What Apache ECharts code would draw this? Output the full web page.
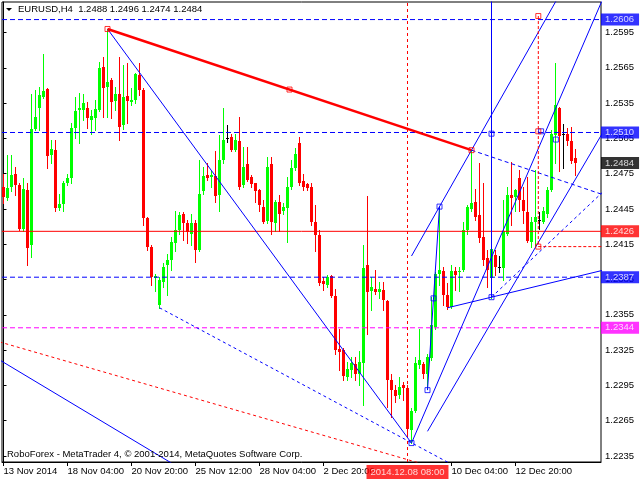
<!DOCTYPE html>
<html><head><meta charset="utf-8">
<script src="https://cdn.jsdelivr.net/npm/echarts@6/dist/echarts.min.js"></script>
<style>html,body{margin:0;padding:0;background:#fff}#c{width:640px;height:480px}</style>
</head><body><div id="c"></div>
<script>
// ---- H4 candles (bar index 0..143) ----
const opens = [1.2464,1.2454,1.2464,1.2475,1.2465,1.2428,1.2461,1.2414,1.2513,1.2531,
1.2540,1.2547,1.2491,1.2495,1.2446,1.2449,1.2467,1.2471,1.2514,1.2529,
1.2529,1.2531,1.2521,1.2522,1.2529,1.2566,1.2549,1.2555,1.2537,1.2543,
1.2516,1.2541,1.2536,1.2538,1.2559,1.2546,1.2437,1.2413,1.2386,1.2363,
1.2383,1.2397,1.2402,1.2416,1.2427,1.2441,1.2433,1.2424,1.2433,1.2410,
1.2460,1.2474,1.2472,1.2473,1.2457,1.2487,1.2505,1.2506,1.2495,1.2503,
1.2465,1.2483,1.2472,1.2467,1.2461,1.2447,1.2435,1.2483,1.2433,1.2451,
1.2443,1.2446,1.2464,1.2480,1.2501,1.2469,1.2466,1.2464,1.2434,1.2423,
1.2384,1.2380,1.2388,1.2371,1.2326,1.2325,1.2302,1.2308,1.2313,1.2305,
1.2314,1.2397,1.2375,1.2377,1.2374,1.2376,1.2367,1.2300,1.2291,1.2287,
1.2295,1.2293,1.2257,1.2273,1.2312,1.2313,1.2305,1.2318,1.2345,1.2390,
1.2392,1.2372,1.2362,1.2392,1.2391,1.2393,1.2427,1.2445,1.2451,1.2440,
1.2421,1.2403,1.2386,1.2406,1.2396,1.2395,1.2424,1.2457,1.2455,1.2471,
1.2453,1.2442,1.2417,1.2434,1.2436,1.2434,1.2441,1.2461,1.2508,1.2531,
1.2509,1.2509,1.2503,1.2488];
const highs = [1.2475,1.2491,1.2491,1.2481,1.2467,1.2471,1.2467,1.2543,1.2546,1.2549,
1.2577,1.2548,1.2504,1.2504,1.2458,1.2469,1.2475,1.2518,1.2540,1.2544,
1.2543,1.2536,1.2529,1.2538,1.2570,1.2574,1.2598,1.2556,1.2549,1.2574,
1.2567,1.2569,1.2548,1.2561,1.2569,1.2548,1.2438,1.2414,1.2390,1.2387,
1.2399,1.2407,1.2421,1.2443,1.2442,1.2442,1.2436,1.2441,1.2436,1.2487,
1.2481,1.2484,1.2477,1.2494,1.2508,1.2531,1.2516,1.2509,1.2509,1.2523,
1.2498,1.2498,1.2474,1.2467,1.2462,1.2453,1.2489,1.2489,1.2453,1.2457,
1.2450,1.2472,1.2487,1.2497,1.2506,1.2475,1.2467,1.2467,1.2448,1.2427,
1.2387,1.2389,1.2389,1.2377,1.2343,1.2327,1.2315,1.2319,1.2319,1.2324,
1.2414,1.2456,1.2387,1.2393,1.2383,1.2383,1.2368,1.2305,1.2295,1.2302,
1.2298,1.2295,1.2276,1.2319,1.2343,1.2315,1.2322,1.2370,1.2391,1.2447,
1.2396,1.2382,1.2397,1.2396,1.2396,1.2434,1.2448,1.2495,1.2462,1.2484,
1.2467,1.2410,1.2412,1.2410,1.2405,1.2453,1.2464,1.2485,1.2462,1.2478,
1.2464,1.2472,1.2438,1.2478,1.2442,1.2447,1.2464,1.2512,1.2569,1.2532,
1.2517,1.2514,1.2515,1.2496];
const lows = [1.2450,1.2453,1.2460,1.2457,1.2427,1.2426,1.2397,1.2404,1.2512,1.2512,
1.2539,1.2480,1.2484,1.2443,1.2444,1.2443,1.2465,1.2467,1.2505,1.2501,
1.2521,1.2514,1.2509,1.2512,1.2528,1.2523,1.2523,1.2522,1.2529,1.2504,
1.2513,1.2518,1.2533,1.2535,1.2542,1.2431,1.2410,1.2380,1.2375,1.2361,
1.2379,1.2372,1.2393,1.2409,1.2424,1.2419,1.2416,1.2414,1.2400,1.2409,
1.2458,1.2470,1.2464,1.2451,1.2443,1.2484,1.2502,1.2494,1.2494,1.2462,
1.2464,1.2469,1.2464,1.2451,1.2443,1.2433,1.2433,1.2424,1.2426,1.2426,
1.2441,1.2417,1.2462,1.2478,1.2465,1.2461,1.2461,1.2431,1.2409,1.2380,
1.2376,1.2379,1.2370,1.2322,1.2308,1.2300,1.2300,1.2302,1.2300,1.2295,
1.2278,1.2339,1.2359,1.2373,1.2369,1.2359,1.2277,1.2268,1.2281,1.2284,
1.2283,1.2253,1.2246,1.2272,1.2310,1.2301,1.2292,1.2317,1.2343,1.2380,
1.2363,1.2360,1.2361,1.2376,1.2375,1.2392,1.2424,1.2443,1.2436,1.2417,
1.2397,1.2379,1.2369,1.2389,1.2391,1.2385,1.2423,1.2431,1.2443,1.2443,
1.2433,1.2417,1.2413,1.2413,1.2428,1.2433,1.2438,1.2460,1.2484,1.2477,
1.2480,1.2499,1.2484,1.2474];
const closes = [1.2455,1.2463,1.2474,1.2465,1.2428,1.2462,1.2412,1.2513,1.2523,1.2542,
1.2545,1.2490,1.2496,1.2446,1.2449,1.2467,1.2471,1.2514,1.2528,1.2531,
1.2535,1.2522,1.2524,1.2530,1.2565,1.2548,1.2553,1.2536,1.2543,1.2515,
1.2540,1.2537,1.2538,1.2560,1.2546,1.2437,1.2413,1.2387,1.2388,1.2385,
1.2396,1.2402,1.2417,1.2427,1.2440,1.2433,1.2425,1.2433,1.2410,1.2458,
1.2473,1.2471,1.2474,1.2456,1.2487,1.2504,1.2505,1.2495,1.2504,1.2464,
1.2481,1.2470,1.2466,1.2460,1.2448,1.2434,1.2481,1.2434,1.2451,1.2441,
1.2447,1.2464,1.2480,1.2492,1.2467,1.2464,1.2463,1.2434,1.2423,1.2382,
1.2381,1.2387,1.2371,1.2325,1.2323,1.2303,1.2309,1.2314,1.2305,1.2315,
1.2395,1.2374,1.2379,1.2374,1.2377,1.2368,1.2300,1.2291,1.2286,1.2294,
1.2293,1.2258,1.2273,1.2314,1.2317,1.2305,1.2319,1.2346,1.2390,1.2393,
1.2372,1.2362,1.2392,1.2389,1.2392,1.2427,1.2447,1.2450,1.2438,1.2420,
1.2402,1.2393,1.2411,1.2396,1.2396,1.2426,1.2457,1.2454,1.2461,1.2453,
1.2443,1.2418,1.2434,1.2438,1.2436,1.2443,1.2461,1.2509,1.2533,1.2507,
1.2509,1.2503,1.2486,1.2484];

// ---- axis ticks ----
const xTickBars = [0,16,32,48,64,80,112,128];
const xTickLabels = ['13 Nov 2014','18 Nov 04:00','20 Nov 20:00','25 Nov 12:00','28 Nov 04:00','2 Dec 20:00','10 Dec 04:00','12 Dec 20:00'];
const yTicks = [1.2235,1.2265,1.2295,1.2325,1.2355,1.2385,1.2415,1.2445,1.2475,1.2505,1.2535,1.2565,1.2595];

// ---- horizontal levels ----
const levelValues = [1.2606,1.2510,1.2426,1.2387,1.2344];
const levelColors = ['#0000ff','#0000ff','#ff0000','#0000ff','#ff00ff'];
const levelDashed = [true,true,false,true,true];
const lastPrice = 1.2484;
const crossBar = 101;
const crossLabel = '2014.12.08 08:00';

// ---- drawn objects (bar index, price) ----
const redTrend = [[26,1.2598],[117,1.2495]];
const redTrendAnchors = [[26,1.2598],[71.5,1.25465],[117,1.2495]];
const fallLine = [[26,1.2598],[102,1.2246]];
const steepRise = [[102,1.2246],[150,1.2625]];
const chanUpper = [[102,1.2405],[150,1.2693]];
const chanLower = [[106,1.2256],[150,1.2511]];
const baseRise = [[111,1.2361],[150,1.2393]];
const vertLine = [[122,1.2370],[122,1.2640]];
const waveLine = [[106,1.2291],[109,1.2447]];
const blueAnchors = [[102,1.2246],[106,1.2291],[107.5,1.2369],[109,1.2447],[122,1.2370],[122,1.2509],[134.4,1.2511],[138.1,1.2504]];
const dashFromTop = [[117,1.2495],[150,1.2457]];
const dashRise = [[122,1.2370],[150,1.2460]];
const dashLow = [[39,1.2361],[112,1.2228]];
const redDashLow = [[-1,1.2332],[104,1.2229]];
const blueLowLeft = [[-1,1.23167],[42,1.2229]];
const redVert = [[133.7,1.2609],[133.7,1.2413]];
const redHoriz = [[133.7,1.2413],[150,1.2413]];
const redVertAnchors = [[133.7,1.2609],[133.7,1.2511],[133.7,1.2413]];

const X_MIN = -0.375, X_MAX = 149.375, Y_MIN = 1.222991, Y_MAX = 1.262093;
const FONT = '"Liberation Sans", Arial, sans-serif';
const chart = echarts.init(document.getElementById('c'), null, {renderer:'canvas'});
const candleData = opens.map((o,i)=>[i,o,highs[i],lows[i],closes[i]]);

function line(pts, color, width, type, z){
  return {type:'line', data:pts, symbol:'none', silent:true, animation:false, clip:true,
    lineStyle:{color:color, width:width, type:type}, z:z||5};
}
function squares(pts, color){
  return {type:'scatter', data:pts, symbol:'rect', symbolSize:5, silent:true, animation:false,
    itemStyle:{color:'rgba(255,255,255,0)', borderColor:color, borderWidth:1}, z:8};
}
function priceBox(v, bg){
  return {type:'scatter', data:[[X_MAX, v]], symbolSize:0, silent:true, animation:false, clip:false, z:30,
    label:{show:true, position:'right', distance:0, formatter:v.toFixed(4), color:'#fff',
      backgroundColor:bg, padding:[1,5,0,4], fontSize:9.5, lineHeight:11, fontFamily:FONT}};
}

const levelSeries = [];
levelValues.forEach((v,i)=>{
  levelSeries.push(line([[X_MIN,v],[X_MAX,v]], levelColors[i], 1, levelDashed[i]?[5,3]:'solid', 4));
  levelSeries.push(priceBox(v, levelColors[i]));
});
levelSeries.push(priceBox(lastPrice, '#000'));
levelSeries.push(line([[crossBar,Y_MIN],[crossBar,Y_MAX]], '#ff0000', 1, [3,3], 4));
levelSeries.push({type:'scatter', data:[[crossBar, Y_MIN]], symbolSize:0, silent:true, animation:false, clip:false, z:30,
  label:{show:true, position:'bottom', distance:3, formatter:crossLabel, color:'#fff',
    backgroundColor:'#ff0000', padding:[2,4,1,4], fontSize:9.5, lineHeight:11, fontFamily:FONT}});

const option = {
  backgroundColor:'#fff',
  animation:false,
  grid:{left:2, right:39, top:2, bottom:18, show:true, borderColor:'#000', borderWidth:1, backgroundColor:'#fff'},
  xAxis:{type:'value', min:X_MIN, max:X_MAX, splitLine:{show:false},
    axisLine:{show:true, lineStyle:{color:'#000'}},
    axisTick:{show:true, length:4, lineStyle:{color:'#000'}, customValues:xTickBars},
    axisLabel:{show:true, customValues:xTickBars, align:'left', margin:4, color:'#000', fontSize:9.5, fontFamily:FONT,
      formatter:function(v){const i=xTickBars.indexOf(Math.round(v)); return i>=0?xTickLabels[i]:'';}}
  },
  yAxis:{type:'value', position:'right', min:Y_MIN, max:Y_MAX, splitLine:{show:false},
    axisLine:{show:true, lineStyle:{color:'#000'}},
    axisTick:{show:true, length:3, lineStyle:{color:'#000'}, customValues:yTicks},
    axisLabel:{show:true, customValues:yTicks, margin:4, color:'#000', fontSize:9.5, fontFamily:FONT,
      formatter:function(v){return v.toFixed(4);}}
  },
  graphic:[
    {type:'polygon', shape:{points:[[6,8],[12,8],[9,11]]}, style:{fill:'#000'}, z:20},
    {type:'text', x:18, y:4, style:{text:'EURUSD,H4  1.2488 1.2496 1.2474 1.2484', fill:'#000', font:'9.5px '+FONT}, z:20},
    {type:'text', x:7, y:449, style:{text:'RoboForex - MetaTrader 4, © 2001-2014, MetaQuotes Software Corp.', fill:'#000', font:'9.5px '+FONT}, z:20}
  ],
  series:[
    {type:'custom', data:candleData, animation:false, silent:true, z:3, clip:true,
      renderItem:function(params, api){
        const k=api.value(0), o=api.value(1), h=api.value(2), l=api.value(3), c=api.value(4);
        const pH=api.coord([k,h]), pL=api.coord([k,l]), pO=api.coord([k,o]), pC=api.coord([k,c]);
        const col = c>o ? '#00ff00' : (c<o ? '#ff0000' : '#000000');
        const x = Math.floor(pH[0])+0.5;
        const top = Math.round(Math.min(pO[1],pC[1])), bot = Math.round(Math.max(pO[1],pC[1]));
        return {type:'group', children:[
          {type:'line', shape:{x1:x, y1:Math.round(pH[1]), x2:x, y2:Math.round(pL[1])+1}, style:{stroke:col, lineWidth:1}},
          {type:'rect', shape:{x:x-1.5, y:top, width:3, height:Math.max(1,bot-top)}, style:{fill:col}}
        ]};
      }
    }
  ].concat(levelSeries).concat([
    line(redTrend,'#ff0000',2.5,'solid',6),
    line(fallLine,'#0000ff',1,'solid'),
    line(steepRise,'#0000ff',1,'solid'),
    line(chanUpper,'#0000ff',1,'solid'),
    line(chanLower,'#0000ff',1,'solid'),
    line(baseRise,'#0000ff',1,'solid'),
    line(vertLine,'#0000ff',1,'solid'),
    line(waveLine,'#0000ff',1,'solid'),
    line(dashFromTop,'#0000ff',1,[4,3]),
    line(dashRise,'#0000ff',1,[3,3]),
    line(dashLow,'#0000ff',1,[3,3]),
    line(redDashLow,'#ff0000',1,[3,3]),
    line(blueLowLeft,'#0000ff',1,'solid'),
    line(redVert,'#ff0000',1,[3,2]),
    line(redHoriz,'#ff0000',1,[3,2]),
    squares(redTrendAnchors,'#ff0000'),
    squares(blueAnchors,'#0000ff'),
    squares(redVertAnchors,'#ff0000')
  ])
};
chart.setOption(option);
</script></body></html>
